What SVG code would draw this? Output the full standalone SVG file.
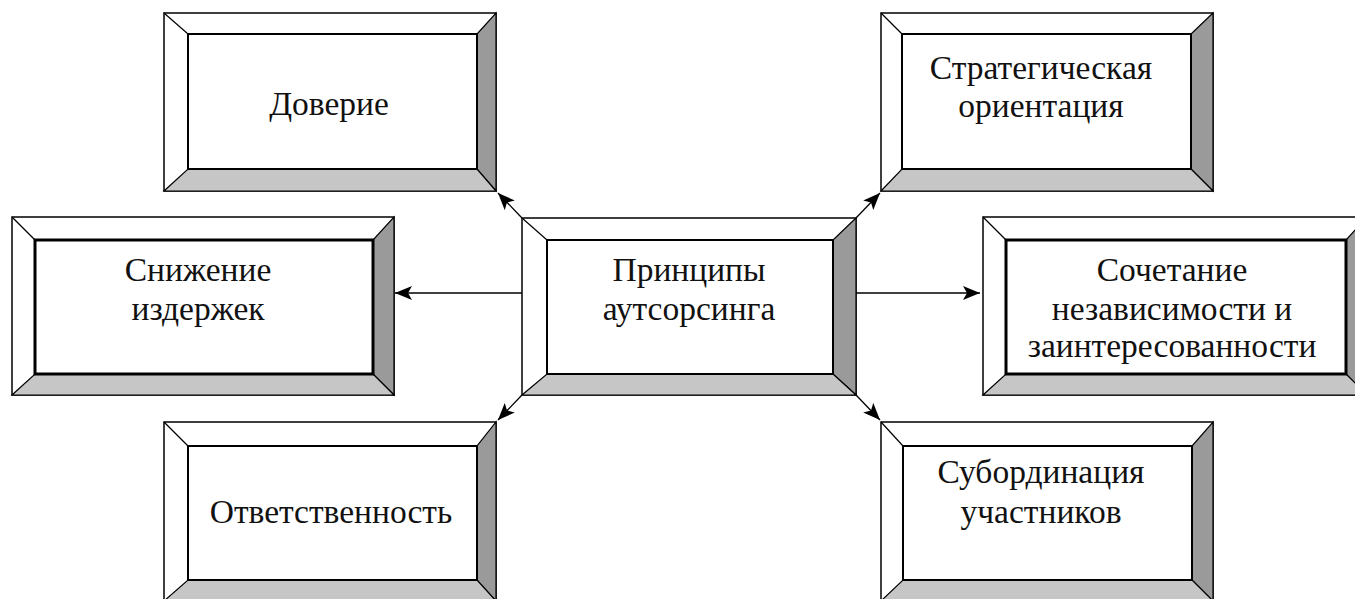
<svg xmlns="http://www.w3.org/2000/svg" width="1355" height="599" viewBox="0 0 1355 599">
<style>
.outer{fill:#fff;stroke:#000;stroke-width:1.5}
.rb{fill:#9a9a9a;stroke:#000;stroke-width:1.2}
.bb{fill:#c6c6c6;stroke:#000;stroke-width:1.2}
.diag{stroke:#000;stroke-width:1.2;fill:none}
.inner{fill:#fff;stroke:#000;stroke-width:2}
.thick{stroke-width:3}
.lbl{font-family:"Liberation Serif","DejaVu Serif",serif;font-size:33.5px;fill:#111;text-anchor:middle}
.conn{stroke:#000;stroke-width:1.3;fill:none;marker-end:url(#ah)}
</style>
<defs>
<marker id="ah" markerUnits="userSpaceOnUse" markerWidth="20" markerHeight="16" refX="17" refY="7" orient="auto">
<path d="M0,0 L17,7 L0,14 L4,7 Z" fill="#000"/>
</marker>
</defs>
<rect width="1355" height="599" fill="#fff"/>

<g id="connectors">
<line class="conn" x1="522" y1="293" x2="395" y2="293"/>
<line class="conn" x1="856" y1="293" x2="980" y2="293"/>
<line class="conn" x1="522" y1="218" x2="498" y2="193"/>
<line class="conn" x1="856" y1="218" x2="880" y2="193"/>
<line class="conn" x1="522" y1="395" x2="498" y2="420"/>
<line class="conn" x1="856" y1="395" x2="880" y2="420"/>
</g>

<g id="node-doverie">
<rect class="outer" x="164" y="13" width="332" height="178"/>
<polygon class="rb" points="496,13 496,191 477,169 477,34"/>
<polygon class="bb" points="164,191 496,191 477,169 188,169"/>
<line class="diag" x1="164" y1="13" x2="188" y2="34"/>
<rect class="inner" x="188" y="34" width="289" height="135"/>
<text class="lbl" x="329" y="115">Доверие</text>
</g>

<g id="node-strateg">
<rect class="outer" x="881" y="13" width="332" height="178"/>
<polygon class="rb" points="1213,13 1213,191 1191,169 1191,34"/>
<polygon class="bb" points="881,191 1213,191 1191,169 902,169"/>
<line class="diag" x1="881" y1="13" x2="902" y2="34"/>
<rect class="inner" x="902" y="34" width="289" height="135"/>
<text class="lbl" x="1041" y="79">Стратегическая</text>
<text class="lbl" x="1041" y="117">ориентация</text>
</g>

<g id="node-snizhenie">
<rect class="outer" x="12" y="217" width="382" height="178"/>
<polygon class="rb" points="394,217 394,395 373,374 373,240"/>
<polygon class="bb" points="12,395 394,395 373,374 35,374"/>
<line class="diag" x1="12" y1="217" x2="35" y2="240"/>
<rect class="inner thick" x="35" y="240" width="338" height="134"/>
<text class="lbl" x="198" y="281">Снижение</text>
<text class="lbl" x="198" y="320">издержек</text>
</g>

<g id="node-center">
<rect class="outer" x="522" y="218" width="334" height="177"/>
<polygon class="rb" points="856,218 856,395 833,374 833,240"/>
<polygon class="bb" points="522,395 856,395 833,374 547,374"/>
<line class="diag" x1="522" y1="218" x2="547" y2="240"/>
<rect class="inner" x="547" y="240" width="286" height="134"/>
<text class="lbl" x="689" y="281">Принципы</text>
<text class="lbl" x="689" y="320">аутсорсинга</text>
</g>

<g id="node-sochetanie">
<rect class="outer" x="983" y="217" width="384" height="178"/>
<polygon class="rb" points="1367,217 1367,395 1346,374 1346,240"/>
<polygon class="bb" points="983,395 1367,395 1346,374 1006,374"/>
<line class="diag" x1="983" y1="217" x2="1006" y2="240"/>
<rect class="inner thick" x="1006" y="240" width="340" height="134"/>
<text class="lbl" x="1172" y="281">Сочетание</text>
<text class="lbl" x="1172" y="320">независимости и</text>
<text class="lbl" x="1172" y="357">заинтересованности</text>
</g>

<g id="node-otvetstv">
<rect class="outer" x="164" y="422" width="332" height="179"/>
<polygon class="rb" points="496,422 496,601 477,580 477,446"/>
<polygon class="bb" points="164,601 496,601 477,580 188,580"/>
<line class="diag" x1="164" y1="422" x2="188" y2="446"/>
<rect class="inner" x="188" y="446" width="289" height="134"/>
<text class="lbl" x="331" y="523">Ответственность</text>
</g>

<g id="node-subord">
<rect class="outer" x="881" y="422" width="332" height="179"/>
<polygon class="rb" points="1213,422 1213,601 1192,580 1192,446"/>
<polygon class="bb" points="881,601 1213,601 1192,580 903,580"/>
<line class="diag" x1="881" y1="422" x2="903" y2="446"/>
<rect class="inner" x="903" y="446" width="289" height="134"/>
<text class="lbl" x="1041" y="483">Субординация</text>
<text class="lbl" x="1041" y="523">участников</text>
</g>
</svg>
